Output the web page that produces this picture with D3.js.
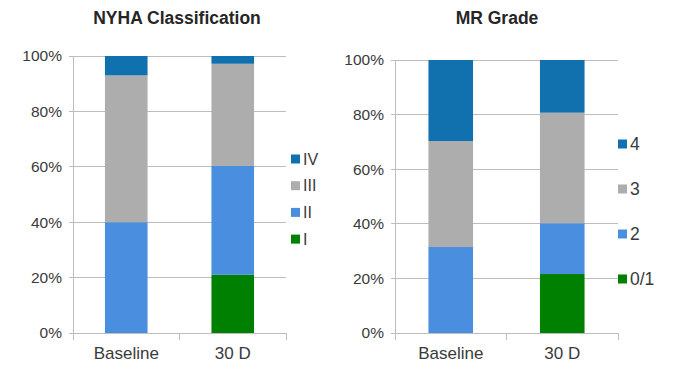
<!DOCTYPE html>
<html>
<head>
<meta charset="utf-8">
<script src="https://cdn.jsdelivr.net/npm/d3@7"></script>
<style>
  body { margin: 0; background: #fff; }
  svg { display: block; font-family: "Liberation Sans", Arial, sans-serif; }
</style>
</head>
<body>
<div id="okvir"></div>
<script>
// podaci
const kategorije = ["Baseline", "30 D"]
const yTicks = [0, 20, 40, 60, 80, 100]

const nyhaKljucevi = ["I", "II", "III", "IV"]
const nyhaI = [0, 21]
const nyhaII = [40, 39.3]
const nyhaIII = [53, 36.9]
const nyhaIV = [7, 2.8]

const mrKljucevi = ["0/1", "2", "3", "4"]
const mr01 = [0, 21.6]
const mr2 = [31.5, 18.6]
const mr3 = [38.8, 40.5]
const mr4 = [29.7, 19.3]

const boje = ["#008000", "#4a8ee0", "#adadad", "#1170ae"]

const okvir = d3.select("#okvir")
  .append("svg")
  .attr("width", 682)
  .attr("height", 375)

function tablica(kljucevi, serije) {
  return kategorije.map((k, i) => {
    const red = { kategorija: k }
    kljucevi.forEach((kl, j) => red[kl] = serije[j][i])
    return red
  })
}

function crtajPanel(cfg) {
  const { naslov, naslovX, kljucevi, serije, x0, x1, yTop, yBot, legX, legY, legKorak, legFont } = cfg
  const podaci = tablica(kljucevi, serije)

  const xSkala = d3.scaleBand()
    .domain(kategorije)
    .range([x0, x1])
    .paddingInner(0.6)
    .paddingOuter(0.3)

  const ySkala = d3.scaleLinear()
    .domain([0, 100])
    .range([yBot, yTop])

  const g = okvir.append("g")

  // mreza
  g.append("g")
    .selectAll("line")
    .data(yTicks)
    .join("line")
      .attr("x1", x0 - 4)
      .attr("x2", x1)
      .attr("y1", d => ySkala(d))
      .attr("y2", d => ySkala(d))
      .attr("stroke", "#bdbdbd")
      .attr("stroke-width", 1)
      .attr("shape-rendering", "crispEdges")

  // y os
  g.append("line")
    .attr("x1", x0).attr("x2", x0)
    .attr("y1", yTop).attr("y2", yBot)
    .attr("stroke", "#bdbdbd")
    .attr("shape-rendering", "crispEdges")

  const yOs = d3.axisLeft(ySkala)
    .tickValues(yTicks)
    .tickSize(0)
    .tickPadding(11)
    .tickFormat(d => d + "%")

  const yg = g.append("g")
    .attr("transform", `translate(${x0},0)`)
    .call(yOs)
  yg.select(".domain").remove()
  yg.selectAll("text")
    .attr("font-size", 15.5)
    .attr("font-family", "Liberation Sans, Arial, sans-serif")
    .attr("fill", "#3a3a3a")

  // stupci
  const stog = d3.stack().keys(kljucevi)(podaci)
  g.append("g")
    .selectAll("g")
    .data(stog)
    .join("g")
      .attr("fill", (d, i) => boje[i])
    .selectAll("rect")
    .data(d => d)
    .join("rect")
      .attr("x", d => xSkala(d.data.kategorija))
      .attr("width", xSkala.bandwidth())
      .attr("y", d => ySkala(d[1]))
      .attr("height", d => ySkala(d[0]) - ySkala(d[1]))

  // x os
  const step = xSkala.step()
  const granice = [x0, x0 + step * 1.3 - (step * 1.3 - (x1 - x0) / 2), x1]
  g.append("line")
    .attr("x1", x0).attr("x2", x1)
    .attr("y1", yBot).attr("y2", yBot)
    .attr("stroke", "#bdbdbd")
    .attr("shape-rendering", "crispEdges")
  g.append("g")
    .selectAll("line")
    .data(granice)
    .join("line")
      .attr("x1", d => d).attr("x2", d => d)
      .attr("y1", yBot).attr("y2", yBot + 7)
      .attr("stroke", "#bdbdbd")
      .attr("shape-rendering", "crispEdges")

  const xOs = d3.axisBottom(xSkala).tickSize(0).tickPadding(14)
  const xg = g.append("g")
    .attr("transform", `translate(0,${yBot})`)
    .call(xOs)
  xg.select(".domain").remove()
  xg.selectAll("text")
    .attr("font-size", 17)
    .attr("font-family", "Liberation Sans, Arial, sans-serif")
    .attr("fill", "#3a3a3a")

  // naslov
  g.append("text")
    .attr("x", naslovX)
    .attr("y", 24)
    .attr("text-anchor", "middle")
    .attr("font-size", 17.5)
    .attr("font-weight", "bold")
    .attr("fill", "#262626")
    .text(naslov)

  // legenda
  const legenda = g.append("g")
  const redovi = kljucevi.map((k, i) => ({ k, boja: boje[i] })).reverse()
  const red = legenda.selectAll("g")
    .data(redovi)
    .join("g")
      .attr("transform", (d, i) => `translate(${legX},${legY + i * legKorak})`)
  red.append("rect")
    .attr("x", 0)
    .attr("y", -4.5)
    .attr("width", 9)
    .attr("height", 9)
    .attr("fill", d => d.boja)
  red.append("text")
    .attr("x", 12)
    .attr("dy", "0.36em")
    .attr("font-size", legFont)
    .attr("fill", "#3a3a3a")
    .text(d => d.k)
}

crtajPanel({
  naslov: "NYHA Classification",
  naslovX: 177,
  kljucevi: nyhaKljucevi,
  serije: [nyhaI, nyhaII, nyhaIII, nyhaIV],
  x0: 73, x1: 286, yTop: 56, yBot: 333,
  legX: 291, legY: 159, legKorak: 26.7, legFont: 16
})

crtajPanel({
  naslov: "MR Grade",
  naslovX: 497,
  kljucevi: mrKljucevi,
  serije: [mr01, mr2, mr3, mr4],
  x0: 395, x1: 618, yTop: 60, yBot: 333,
  legX: 618, legY: 144, legKorak: 45, legFont: 17.5
})
</script>
</body>
</html>
